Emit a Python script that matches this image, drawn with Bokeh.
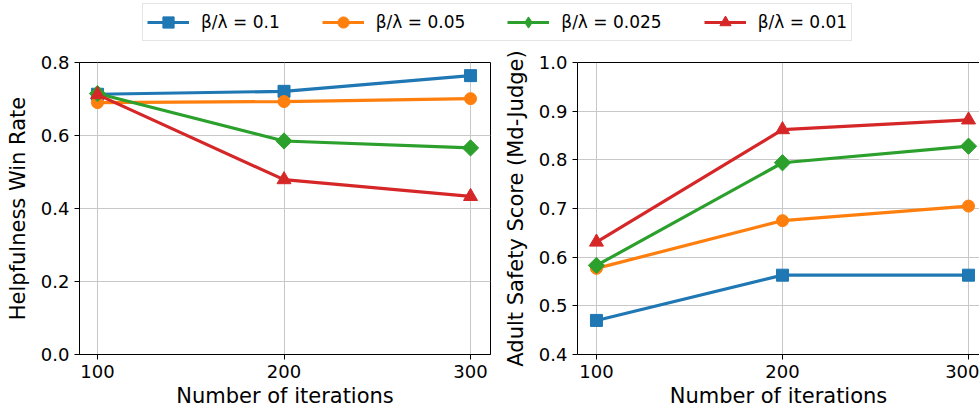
from bokeh.plotting import figure
from bokeh.models import Range1d, FixedTicker, PrintfTickFormatter, Legend, LegendItem, LinearAxis
from bokeh.layouts import column, row
from bokeh.embed import file_html
from bokeh.resources import INLINE
import numpy as np

iterations = [100, 200, 300]
series_labels = ["β/λ = 0.1", "β/λ = 0.05", "β/λ = 0.025", "β/λ = 0.01"]
colors = ["#1f77b4", "#ff7f0e", "#2ca02c", "#d62728"]

help_b0100 = [0.713, 0.721, 0.764]
help_b0050 = [0.690, 0.693, 0.701]
help_b0025 = [0.715, 0.585, 0.566]
help_b0010 = [0.712, 0.479, 0.433]

safe_b0100 = [0.470, 0.563, 0.563]
safe_b0050 = [0.577, 0.675, 0.705]
safe_b0025 = [0.583, 0.794, 0.828]
safe_b0010 = [0.631, 0.862, 0.882]

left_ticks = [0.0, 0.2, 0.4, 0.6, 0.8]
right_ticks = [0.4, 0.5, 0.6, 0.7, 0.8, 0.9, 1.0]

marker_styles = [
    dict(marker="square", size=12, angle=0.0, legend_marker="square"),
    dict(marker="circle", size=12, angle=0.0, legend_marker="circle"),
    dict(marker="square", size=11.5, angle=np.pi / 4, legend_marker="diamond"),
    dict(marker="triangle", size=14, angle=0.0, legend_marker="triangle"),
]

FONT = "DejaVu Sans"


def style(p, yticks):
    p.xaxis.ticker = FixedTicker(ticks=iterations)
    p.yaxis.ticker = FixedTicker(ticks=yticks)
    p.yaxis.formatter = PrintfTickFormatter(format="%.1f")
    for ax in p.xaxis + p.yaxis:
        ax.major_label_text_font = FONT
        ax.major_label_text_font_size = "18px"
        ax.major_label_text_color = "black"
        ax.axis_label_text_font = FONT
        ax.axis_label_text_font_size = "21px"
        ax.axis_label_text_font_style = "normal"
        ax.axis_label_text_color = "black"
        ax.major_tick_out = 5
        ax.major_tick_in = 0
        ax.minor_tick_out = 0
        ax.minor_tick_in = 0
        ax.axis_line_color = "black"
        ax.major_tick_line_color = "black"
        ax.major_label_standoff = 5
    p.xaxis.axis_label_standoff = 3
    p.yaxis.axis_label_standoff = 8
    p.grid.grid_line_color = "#c8c8c8"
    p.grid.grid_line_width = 1
    p.background_fill_color = "white"
    p.border_fill_color = "white"


def draw(p, data):
    for vals, col, ms in zip(data, colors, marker_styles):
        p.line(iterations, vals, line_color=col, line_width=3.2)
        p.scatter(iterations, vals, marker=ms["marker"], size=ms["size"], angle=ms["angle"],
                  fill_color=col, line_color=col)


# Left figure
p1 = figure(width=500, height=369, x_range=Range1d(90.35, 310.7), y_range=Range1d(0.0, 0.8),
            toolbar_location=None, output_backend="svg",
            min_border_left=79, min_border_right=10, min_border_top=20, min_border_bottom=57)
draw(p1, [help_b0100, help_b0050, help_b0025, help_b0010])
style(p1, left_ticks)
p1.xaxis.axis_label = "Number of iterations"
p1.yaxis.axis_label = "Helpfulness Win Rate"
p1.outline_line_color = "black"
p1.outline_line_width = 1

# Right figure
p2 = figure(width=479, height=369, x_range=Range1d(89.81, 305.9), y_range=Range1d(0.4, 1.0),
            toolbar_location=None, output_backend="svg",
            min_border_left=76, min_border_right=0, min_border_top=20, min_border_bottom=57)
draw(p2, [safe_b0100, safe_b0050, safe_b0025, safe_b0010])
style(p2, right_ticks)
p2.xaxis.axis_label = "Number of iterations"
p2.yaxis.axis_label = "Adult Safety Score (Md-Judge)"
p2.outline_line_color = None
top_axis = LinearAxis(ticker=FixedTicker(ticks=[]), major_tick_out=0, major_tick_in=0,
                      minor_tick_out=0, minor_tick_in=0, axis_line_color="black",
                      major_label_text_font_size="0px")
p2.add_layout(top_axis, "above")

# Legend figure
lf = figure(width=979, height=42, x_range=Range1d(0, 1), y_range=Range1d(0, 1),
            toolbar_location=None, output_backend="svg",
            min_border_left=0, min_border_right=0, min_border_top=0, min_border_bottom=0)
lf.axis.visible = False
lf.grid.visible = False
lf.outline_line_color = None
items = []
for lab, col, ms in zip(series_labels, colors, marker_styles):
    rl = lf.line([-5, -4], [-5, -5], line_color=col, line_width=3.2)
    rs = lf.scatter([-5], [-5], marker=ms["legend_marker"], size=ms["size"],
                    fill_color=col, line_color=col)
    items.append(LegendItem(label=lab, renderers=[rl, rs]))
legend = Legend(items=items, orientation="horizontal", location=(142, 1),
                glyph_width=42, glyph_height=28, label_height=28, label_standoff=12, spacing=42,
                padding=4, margin=0, label_text_font=FONT, label_text_font_size="17px",
                label_text_color="black",
                border_line_color="#cccccc", border_line_width=1,
                background_fill_color="white", background_fill_alpha=0.8)
lf.add_layout(legend, "center")

layout = column(lf, row(p1, p2))

open("out.html", "w").write(file_html(layout, INLINE))
